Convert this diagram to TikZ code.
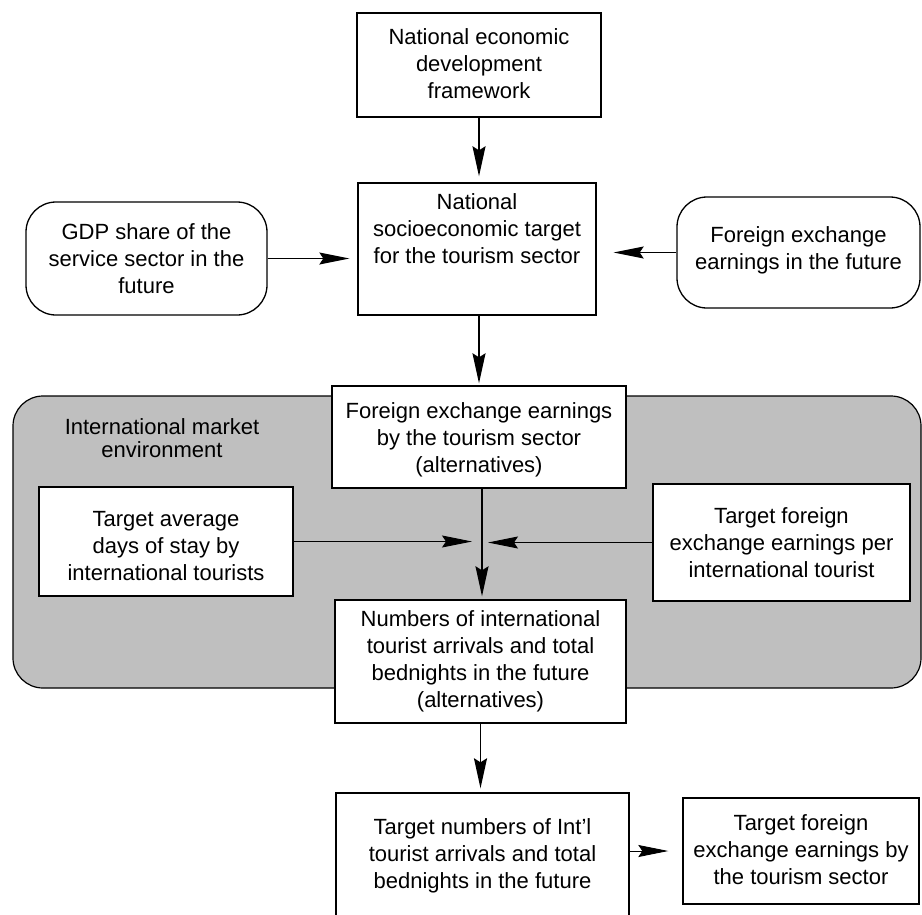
\documentclass[tikz,border=0pt]{standalone}
\usepackage{fontspec}
\setmainfont{Liberation Sans}
\usetikzlibrary{arrows.meta}
\begin{document}
\begin{tikzpicture}[x=1pt,y=-1pt,
  box/.style={draw=black, line width=1.4pt, fill=white, inner sep=0pt},
  rbox/.style={draw=black, line width=1.3pt, fill=white, rounded corners=30pt, inner sep=0pt},
  txt/.style={align=center, font=\fontsize{22}{27}\selectfont, inner sep=0pt},
  arr/.style={draw=black, line width=1.6pt, -{Stealth[length=30pt,width=13pt,inset=4pt]}},
  harr/.style={draw=black, line width=0.9pt, -{Stealth[length=30pt,width=12pt,inset=4pt]}},
  region/.style={draw=black, line width=1.2pt, fill=black!25, rounded corners=30pt}]
\clip (0,0) rectangle (922,914);
\fill[white] (0,0) rectangle (922,914);
% shaded market region
\draw[region] (13,396) rectangle (921,688);
\node[txt, font=\fontsize{22}{23}\selectfont] (envlabel) at (162,438) {International market\\environment};
% boxes
\node[box, minimum width=244pt, minimum height=104pt] (A) at (479,65) {};
\node[txt] (Atxt) at (479,64) {National economic\\development\\framework};
\node[box, minimum width=238pt, minimum height=132pt] (B) at (477,249) {};
\node[txt] (Btxt) at (477,229) {National\\socioeconomic target\\for the tourism sector};
\node[rbox, minimum width=241pt, minimum height=113pt] (L) at (146.5,258.5) {};
\node[txt] (Ltxt) at (146.5,259) {GDP share of the\\service sector in the\\future};
\node[rbox, minimum width=243pt, minimum height=111pt] (R) at (798.5,252.5) {};
\node[txt] (Rtxt) at (798.5,250) {Foreign exchange\\earnings in the future};
\node[box, minimum width=294pt, minimum height=102pt] (FX) at (479,437) {};
\node[txt] (FXtxt) at (479,440) {Foreign exchange earnings\\by the tourism sector\\(alternatives)};
\node[box, minimum width=254pt, minimum height=109pt] (LB) at (166,541.5) {};
\node[txt] (LBtxt) at (166,546) {Target average\\days of stay by\\international tourists};
\node[box, minimum width=257pt, minimum height=117pt] (RB) at (781.5,542.5) {};
\node[txt] (RBtxt) at (781.5,543) {Target foreign\\exchange earnings per\\international tourist};
\node[box, minimum width=291pt, minimum height=123pt] (NUM) at (480.5,661.5) {};
\node[txt] (NUMtxt) at (480.5,661) {Numbers of international\\tourist arrivals and total\\bednights in the future\\(alternatives)};
\node[box, minimum width=293pt, minimum height=142pt] (T) at (482.5,864) {};
\node[txt] (Ttxt) at (482.5,856) {Target numbers of Int'l\\tourist arrivals and total\\bednights in the future};
\node[box, minimum width=236pt, minimum height=106pt] (RT) at (801,851) {};
\node[txt] (RTtxt) at (801,850) {Target foreign\\exchange earnings by\\the tourism sector};
% connectors
\coordinate (m) at (482,544);
\draw[arr, shorten >=6pt] (A.south) -- (A.south |- B.north);
\draw[harr, shorten >=8pt] (L.east) -- (L.east -| B.west);
\draw[harr, shorten >=17pt] (R.west) -- (R.west -| B.east);
\draw[arr, shorten >=2pt] (FX.north |- B.south) -- (FX.north);
\draw[arr, shorten >=3pt] (m |- FX.south) -- (m |- NUM.north);
\draw[harr, shorten >=10pt] (LB.east) -- (LB.east -| m);
\draw[harr, shorten >=6pt] (RB.west) -- (RB.west -| m);
\draw[arr, shorten >=4pt] (NUM.south) -- (NUM.south |- T.north);
\draw[harr, shorten >=14pt] (T.east |- RT.west) -- (RT.west);
\end{tikzpicture}
\end{document}
